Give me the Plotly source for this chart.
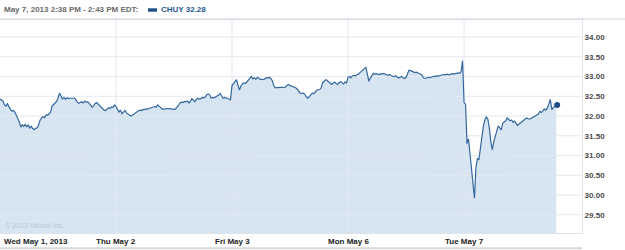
import plotly.graph_objects as go

# ---- data (CHUY, 5-minute closes) ----
day_labels = ["Wed May 1, 2013", "Thu May 2", "Fri May 3", "Mon May 6", "Tue May 7"]
points_per_day = 78

may1 = [32.43, 32.40, 32.38, 32.28, 32.25, 32.31, 32.22, 32.17, 32.12, 32.14,
        32.10, 32.02, 31.93, 31.85, 31.72, 31.78, 31.74, 31.79, 31.73, 31.77,
        31.70, 31.74, 31.68, 31.66, 31.69, 31.70, 31.78, 31.90, 31.95, 31.98,
        31.96, 32.03, 32.02, 32.06, 32.10, 32.25, 32.28, 32.33, 32.37, 32.45,
        32.58, 32.50, 32.43, 32.47, 32.42, 32.46, 32.44, 32.45, 32.45, 32.44,
        32.45, 32.42, 32.35, 32.32, 32.34, 32.36, 32.33, 32.38, 32.35, 32.36,
        32.32, 32.28, 32.22, 32.26, 32.32, 32.34, 32.30, 32.27, 32.24, 32.20,
        32.15, 32.14, 32.18, 32.21, 32.19, 32.23, 32.22, 32.28]
may2 = [32.24, 32.18, 32.10, 32.15, 32.06, 32.10, 32.14, 32.08, 32.05, 32.01,
        32.00, 32.02, 32.05, 32.08, 32.12, 32.13, 32.15, 32.14, 32.17, 32.16,
        32.18, 32.17, 32.19, 32.20, 32.21, 32.22, 32.24, 32.22, 32.28, 32.25,
        32.20, 32.18, 32.17, 32.18, 32.19, 32.18, 32.19, 32.18, 32.17, 32.17,
        32.18, 32.22, 32.27, 32.33, 32.35, 32.34, 32.37, 32.36, 32.38, 32.33,
        32.37, 32.44, 32.40, 32.36, 32.42, 32.45, 32.43, 32.44, 32.47, 32.46,
        32.48, 32.54, 32.56, 32.53, 32.45, 32.47, 32.46, 32.48, 32.50, 32.53,
        32.57, 32.50, 32.45, 32.47, 32.46, 32.45, 32.43, 32.41]
may3 = [32.77, 32.82, 32.88, 32.92, 32.78, 32.66, 32.76, 32.82, 32.84, 32.83,
        32.86, 32.92, 32.96, 33.00, 32.94, 32.97, 32.93, 32.98, 32.95, 32.93,
        32.93, 32.92, 32.94, 32.97, 32.96, 32.98, 32.95, 32.90, 32.78, 32.72,
        32.72, 32.72, 32.72, 32.73, 32.72, 32.72, 32.73, 32.78, 32.80, 32.77,
        32.76, 32.75, 32.73, 32.71, 32.68, 32.62, 32.58, 32.57, 32.58, 32.55,
        32.48, 32.45, 32.49, 32.55, 32.58, 32.57, 32.60, 32.66, 32.67, 32.67,
        32.72, 32.85, 32.88, 32.92, 32.90, 32.86, 32.84, 32.80, 32.83, 32.86,
        32.82, 32.80, 32.85, 32.87, 32.84, 32.81, 32.86, 32.84]
may6 = [32.98, 33.00, 32.97, 33.02, 33.03, 33.01, 33.05, 33.06, 33.10, 33.14,
        33.17, 33.20, 33.23, 33.00, 32.88, 32.96, 33.03, 33.08, 33.06, 33.07,
        33.06, 33.05, 33.07, 33.06, 33.08, 33.05, 33.04, 33.03, 33.05, 33.02,
        33.01, 33.00, 33.02, 32.99, 32.96, 32.98, 33.00, 32.97, 32.95, 32.98,
        33.08, 33.16, 33.15, 33.13, 33.12, 33.10, 33.11, 33.08, 33.07, 33.06,
        33.02, 32.96, 32.95, 32.97, 32.98, 32.97, 32.99, 33.00, 33.01, 33.00,
        33.02, 33.01, 33.03, 33.04, 33.05, 33.04, 33.05, 33.06, 33.04, 33.06,
        33.07, 33.06, 33.07, 33.08, 33.09, 33.08, 33.12, 33.40]
may7 = [32.34, 32.30, 31.30, 31.42, 31.00, 30.60, 30.15, 29.92, 30.70, 30.92,
        30.90, 31.20, 31.55, 31.75, 31.90, 31.98, 31.92, 31.70, 31.35, 31.15,
        31.35, 31.50, 31.58, 31.75, 31.70, 31.65, 31.82, 31.85, 31.88, 31.95,
        31.92, 31.88, 31.90, 31.84, 31.87, 31.80, 31.76, 31.80, 31.83, 31.85,
        31.88, 31.92, 31.95, 31.93, 31.92, 31.94, 31.96, 31.97, 31.99, 32.02,
        32.05, 32.12, 32.09, 32.13, 32.18, 32.15, 32.20, 32.30, 32.42, 32.16,
        32.22, 32.24, 32.28]
days = [may1, may2, may3, may6, may7]

y_ticks = [29.5, 30.0, 30.5, 31.0, 31.5, 32.0, 32.5, 33.0, 33.5, 34.0]
symbol = "CHUY"
last_price = "32.28"
header = "May 7, 2013 2:38 PM - 2:43 PM EDT:"

# ---- build series ----
xs, ys = [], []
for d, vals in enumerate(days):
    for i, v in enumerate(vals):
        xs.append(d * points_per_day + i)
        ys.append(v)

X_MAX = 391.3
Y_MIN, Y_MAX = 29.04, 34.43
day_starts = [d * points_per_day for d in range(len(days))]

LINE = "#35679f"
FILL = "#d6e5f1"
GRID = "#e3e9ef"
FONT = "Liberation Sans"

fig = go.Figure()
# area fill
fig.add_trace(go.Scatter(x=xs, y=ys, mode="lines", line=dict(width=0, color=FILL),
                         fill="tozeroy", fillcolor=FILL, hoverinfo="skip"))
# grid lines drawn over the fill
gx, gy = [], []
for v in y_ticks:
    gx += [0, X_MAX, None]
    gy += [v, v, None]
for s in day_starts[1:]:
    gx += [s, s, None]
    gy += [Y_MIN, Y_MAX, None]
fig.add_trace(go.Scatter(x=gx, y=gy, mode="lines", line=dict(width=1, color=GRID),
                         hoverinfo="skip"))
# price line
fig.add_trace(go.Scatter(x=xs, y=ys, mode="lines", line=dict(width=1.2, color=LINE)))
# last point marker
fig.add_trace(go.Scatter(x=[xs[-1] + 0.6], y=[ys[-1]], mode="markers",
                         marker=dict(size=6, color="#1d4f86")))

fig.update_layout(
    width=625, height=250,
    margin=dict(l=0, r=43, t=20, b=17),
    paper_bgcolor="white", plot_bgcolor="white",
    showlegend=False,
    xaxis=dict(range=[0, X_MAX], showgrid=False, zeroline=False, showticklabels=False,
               showline=True, linecolor="#dde4eb", mirror=True, fixedrange=True),
    yaxis=dict(range=[Y_MIN, Y_MAX], side="right", tickvals=y_ticks,
               ticktext=[f"{v:.2f}" for v in y_ticks], showgrid=False, zeroline=False,
               ticks="", ticklabelstandoff=0,
               tickfont=dict(family=FONT, size=8, color="#4a4a4a", weight="bold"),
               showline=True, linecolor="#dde4eb", mirror=True),
)

annotations = []
for k, (s, lab) in enumerate(zip(day_starts, day_labels)):
    annotations.append(dict(x=s, xref="x", y=-0.038, yref="paper", text=lab,
                            showarrow=False, xanchor="left" if k == 0 else "center",
                            xshift=2 if k == 0 else 0, yanchor="middle",
                            font=dict(family=FONT, size=8, color="#222", weight="bold")))
annotations.append(dict(x=0, xref="paper", y=1.047, yref="paper", text=header,
                        showarrow=False, xanchor="left", yanchor="middle", xshift=2,
                        font=dict(family=FONT, size=8, color="#6a6a6a", weight="bold")))
annotations.append(dict(x=159 / 582, xref="paper", y=1.047, yref="paper",
                        text=f"{symbol} {last_price}", showarrow=False, xanchor="left",
                        yanchor="middle",
                        font=dict(family=FONT, size=8, color="#1f5a96", weight="bold")))
annotations.append(dict(x=0, xref="paper", y=0.033, yref="paper", text="© 2013 Yahoo! Inc.",
                        showarrow=False, xanchor="left", yanchor="middle", xshift=3,
                        font=dict(family=FONT, size=7, color="#b9c5d1")))
fig.update_layout(annotations=annotations)

fig.add_shape(type="rect", xref="paper", yref="paper", x0=148 / 582, x1=157 / 582,
              y0=1.039, y1=1.055, fillcolor="#1d4f86", line=dict(width=0))
fig.add_shape(type="line", xref="paper", yref="paper", x0=0, x1=625 / 582,
              y0=1.005, y1=1.005, line=dict(color="#cfd6dd", width=1))
fig.add_shape(type="line", xref="paper", yref="paper", x0=0, x1=1,
              y0=-0.072, y1=-0.072, line=dict(color="#d8d8d8", width=2))

fig.write_html("out.html")
